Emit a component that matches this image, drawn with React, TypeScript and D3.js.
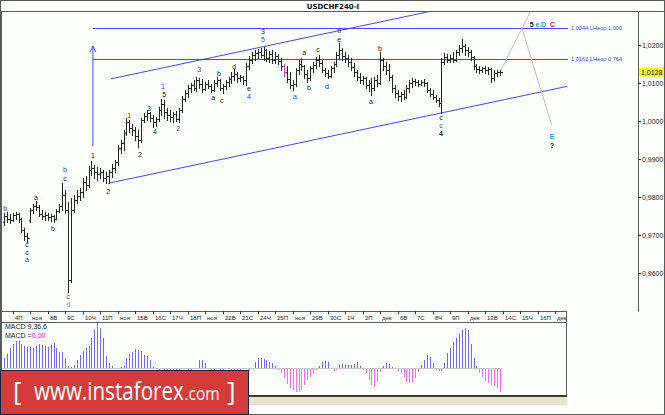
import React from "react";
import * as d3 from "d3";

// ---- USDCHF H4 bars (Nov 3 – Dec 13, 2016) ----
const opens = [
  0.9734,0.9750,0.9742,0.9739,0.9752,0.9755,0.9742,0.9713,0.9697,0.9739,
  0.9765,0.9776,0.9773,0.9755,0.9750,0.9752,0.9747,0.9750,0.9742,0.9763,
  0.9776,0.9805,0.9765,0.9581,0.9765,0.9792,0.9802,0.9813,0.9839,0.9831,
  0.9871,0.9876,0.9865,0.9860,0.9865,0.9850,0.9855,0.9865,0.9876,0.9892,
  0.9929,0.9942,0.9968,0.9997,0.9981,0.9976,0.9960,0.9950,1.0002,1.0013,
  1.0021,1.0007,0.9997,1.0005,1.0029,1.0044,1.0023,1.0015,1.0010,1.0018,
  1.0005,1.0029,1.0057,1.0073,1.0086,1.0094,1.0086,1.0107,1.0097,1.0084,
  1.0097,1.0092,1.0081,1.0100,1.0107,1.0086,1.0092,1.0102,1.0110,1.0118,
  1.0123,1.0113,1.0115,1.0107,1.0144,1.0160,1.0173,1.0179,1.0181,1.0173,
  1.0186,1.0165,1.0176,1.0160,1.0171,1.0157,1.0144,1.0129,1.0110,1.0094,
  1.0097,1.0134,1.0150,1.0144,1.0123,1.0113,1.0139,1.0147,1.0160,1.0152,
  1.0134,1.0126,1.0118,1.0139,1.0150,1.0173,1.0186,1.0171,1.0165,1.0155,
  1.0142,1.0129,1.0115,1.0107,1.0113,1.0094,1.0100,1.0086,1.0107,1.0100,
  1.0160,1.0144,1.0134,1.0115,1.0086,1.0073,1.0065,1.0071,1.0063,1.0086,
  1.0100,1.0105,1.0102,1.0097,1.0102,1.0100,1.0081,1.0071,1.0063,1.0055,
  1.0047,1.0155,1.0168,1.0160,1.0165,1.0160,1.0181,1.0192,1.0197,1.0186,
  1.0181,1.0168,1.0144,1.0136,1.0134,1.0139,1.0134,1.0136,1.0113,1.0126,
  1.0129,
];
const highs = [
  0.9757,0.9760,0.9755,0.9757,0.9760,0.9757,0.9744,0.9718,0.9705,0.9771,
  0.9781,0.9789,0.9779,0.9765,0.9760,0.9757,0.9755,0.9752,0.9768,0.9781,
  0.9836,0.9818,0.9786,0.9797,0.9805,0.9818,0.9823,0.9850,0.9855,0.9881,
  0.9894,0.9884,0.9878,0.9876,0.9871,0.9865,0.9871,0.9886,0.9897,0.9936,
  0.9950,0.9976,1.0007,1.0002,0.9992,0.9984,0.9976,1.0007,1.0021,1.0029,
  1.0023,1.0015,1.0010,1.0036,1.0057,1.0055,1.0034,1.0029,1.0023,1.0026,
  1.0034,1.0065,1.0081,1.0094,1.0100,1.0107,1.0115,1.0113,1.0110,1.0102,
  1.0107,1.0097,1.0107,1.0115,1.0110,1.0097,1.0107,1.0115,1.0129,1.0136,
  1.0129,1.0121,1.0118,1.0152,1.0171,1.0181,1.0186,1.0189,1.0192,1.0194,
  1.0189,1.0184,1.0186,1.0181,1.0176,1.0165,1.0150,1.0144,1.0129,1.0107,
  1.0139,1.0160,1.0165,1.0147,1.0134,1.0144,1.0155,1.0168,1.0173,1.0160,
  1.0139,1.0134,1.0144,1.0155,1.0181,1.0205,1.0192,1.0181,1.0173,1.0165,
  1.0152,1.0134,1.0126,1.0118,1.0115,1.0107,1.0113,1.0115,1.0121,1.0181,
  1.0165,1.0155,1.0150,1.0121,1.0094,1.0081,1.0076,1.0081,1.0094,1.0107,
  1.0113,1.0110,1.0107,1.0107,1.0110,1.0102,1.0086,1.0081,1.0068,1.0060,
  1.0165,1.0179,1.0176,1.0173,1.0181,1.0186,1.0200,1.0215,1.0202,1.0194,
  1.0186,1.0171,1.0150,1.0144,1.0142,1.0144,1.0142,1.0139,1.0134,1.0134,
  1.0134,
];
const lows = [
  0.9726,0.9734,0.9731,0.9736,0.9742,0.9734,0.9708,0.9686,0.9681,0.9734,
  0.9757,0.9765,0.9750,0.9742,0.9739,0.9739,0.9736,0.9734,0.9742,0.9760,
  0.9765,0.9757,0.9550,0.9576,0.9760,0.9784,0.9792,0.9800,0.9818,0.9826,
  0.9857,0.9850,0.9844,0.9850,0.9842,0.9836,0.9836,0.9852,0.9865,0.9884,
  0.9915,0.9923,0.9963,0.9971,0.9963,0.9950,0.9931,0.9944,0.9997,1.0002,
  0.9999,0.9984,0.9986,0.9999,1.0015,1.0007,1.0002,0.9999,0.9997,0.9999,
  0.9997,1.0023,1.0052,1.0063,1.0076,1.0081,1.0079,1.0086,1.0076,1.0081,
  1.0086,1.0076,1.0079,1.0092,1.0081,1.0073,1.0084,1.0092,1.0100,1.0107,
  1.0102,1.0105,1.0097,1.0094,1.0136,1.0152,1.0160,1.0165,1.0168,1.0160,
  1.0157,1.0155,1.0152,1.0152,1.0150,1.0134,1.0118,1.0102,1.0086,1.0081,
  1.0092,1.0123,1.0134,1.0113,1.0102,1.0107,1.0129,1.0139,1.0144,1.0129,
  1.0118,1.0113,1.0115,1.0129,1.0144,1.0165,1.0160,1.0155,1.0144,1.0134,
  1.0118,1.0107,1.0100,1.0097,1.0086,1.0079,1.0068,1.0081,1.0092,1.0097,
  1.0134,1.0123,1.0107,1.0076,1.0063,1.0055,1.0052,1.0057,1.0060,1.0076,
  1.0089,1.0094,1.0092,1.0094,1.0092,1.0076,1.0065,1.0057,1.0050,1.0039,
  1.0021,1.0150,1.0155,1.0155,1.0155,1.0157,1.0173,1.0181,1.0173,1.0171,
  1.0160,1.0136,1.0129,1.0126,1.0129,1.0126,1.0123,1.0102,1.0107,1.0118,
  1.0121,
];
const closes = [
  0.9750,0.9742,0.9739,0.9752,0.9755,0.9742,0.9713,0.9697,0.9692,0.9765,
  0.9776,0.9773,0.9755,0.9750,0.9752,0.9747,0.9750,0.9742,0.9763,0.9776,
  0.9805,0.9765,0.9581,0.9765,0.9792,0.9802,0.9813,0.9839,0.9831,0.9871,
  0.9876,0.9865,0.9860,0.9865,0.9850,0.9855,0.9865,0.9876,0.9892,0.9929,
  0.9942,0.9968,0.9997,0.9981,0.9976,0.9960,0.9950,1.0002,1.0013,1.0021,
  1.0007,0.9997,1.0005,1.0029,1.0044,1.0023,1.0015,1.0010,1.0018,1.0005,
  1.0029,1.0057,1.0073,1.0086,1.0094,1.0086,1.0107,1.0097,1.0084,1.0097,
  1.0092,1.0081,1.0100,1.0107,1.0086,1.0092,1.0102,1.0110,1.0118,1.0123,
  1.0113,1.0115,1.0107,1.0144,1.0160,1.0173,1.0179,1.0181,1.0173,1.0186,
  1.0165,1.0176,1.0160,1.0171,1.0157,1.0144,1.0129,1.0110,1.0094,1.0097,
  1.0134,1.0150,1.0144,1.0123,1.0113,1.0139,1.0147,1.0160,1.0152,1.0134,
  1.0126,1.0118,1.0139,1.0150,1.0173,1.0186,1.0171,1.0165,1.0155,1.0142,
  1.0129,1.0115,1.0107,1.0113,1.0094,1.0100,1.0086,1.0107,1.0100,1.0160,
  1.0144,1.0134,1.0115,1.0086,1.0073,1.0065,1.0071,1.0063,1.0086,1.0100,
  1.0105,1.0102,1.0097,1.0102,1.0100,1.0081,1.0071,1.0063,1.0055,1.0047,
  1.0155,1.0168,1.0160,1.0165,1.0160,1.0181,1.0192,1.0197,1.0186,1.0181,
  1.0168,1.0144,1.0136,1.0134,1.0139,1.0134,1.0136,1.0113,1.0126,1.0129,
  1.0128,
];
// MACD(9,36,6) histogram, in points (0.0001)
const macdHist = [
  10,14,20,24,27,27,24,22,21,21,
  20,22,24,23,22,21,23,25,20,16,
  16,10,2,1,3,8,13,17,20,22,
  30,38,45,40,30,12,5,2,-1,-1,
  1,2,10,14,16,19,18,17,13,12,
  8,1,-1,-2,-1,-2,-3,-2,-2,-3,
  -2,-1,-1,-2,-2,-1,-1,8,8,5,
  -1,-2,-2,-1,-3,-2,-1,-1,-2,-3,
  -2,-2,-1,-1,-2,-1,6,10,10,9,
  8,6,5,2,-2,-5,-10,-16,-20,-22,
  -24,-24,-22,-17,-12,-9,-5,-2,2,6,
  7,6,-1,-3,-2,3,4,3,3,3,
  4,6,2,-2,-5,-12,-17,-19,-14,-4,
  2,5,4,1,-1,-3,-5,-9,-14,-15,
  -14,-10,-4,3,8,13,11,5,-2,-3,
  -3,5,15,20,26,30,34,38,40,38,
  24,10,2,-5,-9,-13,-15,-17,-18,-20,
  -24,
];
const dayLabels = [
  "4П","ноя","8В","9С","10Ч","11П","ноя","15В","16С","17Ч","18П","ноя",
  "22В","23С","24Ч","25П","ноя","29В","30С","1Ч","2П","дек","6В","7С",
  "8Ч","9П","дек","13В","14С","15Ч","16П","дек",
];
const priceTicks = [1.02, 1.01, 1.0, 0.99, 0.98, 0.97, 0.96];
const lastPrice = 1.0128;
const fibPrices = [1.0244, 1.0162];
const fibRatios = ["1,000", "0,764"];
const fibStartBar = 30.5;
const fibEndBar = 193.4;
const arrowLine = [[30.5, 0.9934], [30.5, 1.0197]];
const lowerChannel = [[35.7, 0.9836], [193.0, 1.0091]];
const upperChannel = [[36.7, 1.0111], [147.1, 1.0290]];
const projUp = [[170, 1.0128], [177.6, 1.0244], [180.6, 1.029]];
const projDown = [[177.6, 1.0244], [187.8, 0.9989]];
const pinkBar = 96;

const waveLabels: { t: string; i: number; p: number; k: string; b?: boolean }[] = [
  { t: "b", i: 0.4, p: 0.9771, k: "blue" },
  { t: "c", i: 7.9, p: 0.9675, k: "black" },
  { t: "c", i: 7.9, p: 0.9655, k: "black" },
  { t: "a", i: 7.9, p: 0.9635, k: "blue" },
  { t: "a", i: 11.0, p: 0.98, k: "black" },
  { t: "b", i: 16.8, p: 0.9718, k: "black" },
  { t: "b", i: 20.9, p: 0.9873, k: "blue" },
  { t: "c", i: 20.9, p: 0.985, k: "black" },
  { t: "c", i: 22.0, p: 0.9539, k: "blue" },
  { t: "d", i: 22.0, p: 0.9518, k: "cyan" },
  { t: "1", i: 30.5, p: 0.991, k: "black" },
  { t: "2", i: 35.7, p: 0.9815, k: "black" },
  { t: "1", i: 42.9, p: 1.0015, k: "darkred" },
  { t: "2", i: 46.6, p: 0.9913, k: "black" },
  { t: "3", i: 49.7, p: 1.0034, k: "black" },
  { t: "4", i: 51.8, p: 0.9973, k: "black" },
  { t: "1", i: 54.5, p: 1.0091, k: "blue" },
  { t: "5", i: 54.9, p: 1.0071, k: "black" },
  { t: "2", i: 59.7, p: 0.9981, k: "blue" },
  { t: "3", i: 66.9, p: 1.0136, k: "blue" },
  { t: "a", i: 71.7, p: 1.0063, k: "black" },
  { t: "b", i: 73.7, p: 1.0126, k: "black" },
  { t: "c", i: 74.7, p: 1.0055, k: "black" },
  { t: "d", i: 78.9, p: 1.0144, k: "black" },
  { t: "e", i: 84.0, p: 1.0086, k: "black" },
  { t: "4", i: 84.0, p: 1.0065, k: "blue" },
  { t: "3", i: 88.8, p: 1.0236, k: "black" },
  { t: "5", i: 88.8, p: 1.0215, k: "blue" },
  { t: "a", i: 99.8, p: 1.0065, k: "blue" },
  { t: "a", i: 102.9, p: 1.0181, k: "black" },
  { t: "b", i: 104.6, p: 1.0089, k: "black" },
  { t: "c", i: 107.7, p: 1.0189, k: "black" },
  { t: "d", i: 110.7, p: 1.0092, k: "black" },
  { t: "b", i: 114.9, p: 1.0237, k: "blue" },
  { t: "e", i: 114.9, p: 1.0215, k: "black" },
  { t: "a", i: 125.8, p: 1.0052, k: "black" },
  { t: "b", i: 128.9, p: 1.0192, k: "black" },
  { t: "c", i: 149.8, p: 1.0008, k: "black" },
  { t: "c", i: 149.8, p: 0.9988, k: "blue" },
  { t: "4", i: 149.8, p: 0.9968, k: "black", b: true },
  { t: "5", i: 180.9, p: 1.0255, k: "black", b: true },
  { t: "e", i: 182.9, p: 1.0255, k: "teal", b: true },
  { t: "D", i: 185.0, p: 1.0255, k: "cyan", b: true },
  { t: "C", i: 188.1, p: 1.0255, k: "red", b: true },
  { t: "E", i: 187.9, p: 0.996, k: "cyan", b: true },
  { t: "?", i: 187.9, p: 0.9935, k: "black", b: true },
];

const labelColors: Record<string, string> = {
  black: "#1a1a1a",
  blue: "#3434ff",
  cyan: "#1c9ee6",
  teal: "#1a8fd6",
  red: "#e01e1e",
  darkred: "#a01818",
};

const fmt = (p: number) => p.toFixed(4).replace(".", ",");

export default function App() {
  const x = d3.scaleLinear().domain([0, 170]).range([3.95, 499.8]);
  const y = d3.scaleLinear().domain([0.95, 1.02]).range([311, 45]);
  const ym = d3.scaleLinear().domain([-27, 46]).range([395, 322]);
  const cx = (i: number) => Math.round(x(i)) + 0.5;
  const cy = (p: number) => Math.round(y(p)) + 0.5;
  const line = d3
    .line<number[]>()
    .x((d) => x(d[0]))
    .y((d) => y(d[1]));

  const barPaths = closes.map((c, i) => {
    const X = cx(i);
    return `M${X},${Math.round(y(highs[i]))}V${Math.round(y(lows[i])) + 1}M${X - 2},${cy(
      opens[i]
    )}H${X}M${X},${cy(c)}H${X + 2}`;
  });

  const lineBlue = "#4646f8";
  const zeroY = Math.round(ym(0));

  return (
    <svg
      width={665}
      height={415}
      style={{ position: "fixed", left: 0, top: 0, display: "block", background: "#fdfffd" }}
      fontFamily="'Liberation Sans', Arial, sans-serif"
    >
      <rect x={0} y={0} width={665} height={415} fill="#fdfffd" />
      <defs>
        <clipPath id="plot">
          <rect x={2} y={12} width={636} height={299} />
        </clipPath>
      </defs>

      <text
        x={333}
        y={9}
        textAnchor="middle"
        fontFamily="'DejaVu Sans', sans-serif"
        fontWeight="bold"
        fontSize={7}
        fill="#111"
      >
        USDCHF240-I
      </text>

      <g stroke="#5a5a5a" fill="none" shapeRendering="crispEdges">
        <rect x={0.5} y={0.5} width={664} height={414} />
        <line x1={0} x2={665} y1={11.5} y2={11.5} />
        <line x1={638.5} x2={638.5} y1={11} y2={311} />
        <line x1={1.5} x2={1.5} y1={11} y2={397} />
        <line x1={1} x2={567} y1={311.5} y2={311.5} />
        <line x1={1} x2={567} y1={322.5} y2={322.5} />
        <line x1={566.5} x2={566.5} y1={311} y2={397} />
      </g>
      <rect x={2} y={395} width={565} height={2} fill="#3a3a3a" />
      <rect x={2} y={397} width={565} height={8} fill="#e7e3cb" />

      <g clipPath="url(#plot)">
        {fibPrices.map((p, k) => (
          <line
            key={"f" + k}
            x1={x(fibStartBar)}
            x2={x(fibEndBar)}
            y1={cy(p)}
            y2={cy(p)}
            stroke={lineBlue}
            shapeRendering="crispEdges"
          />
        ))}
        <path d={line(arrowLine as number[][]) || ""} stroke={lineBlue} fill="none" />
        <path
          d={`M${x(arrowLine[1][0]) - 3},${y(arrowLine[1][1]) + 6}L${x(arrowLine[1][0])},${y(
            arrowLine[1][1]
          )}L${x(arrowLine[1][0]) + 3},${y(arrowLine[1][1]) + 6}`}
          stroke={lineBlue}
          fill="none"
        />
        <path d={line(lowerChannel as number[][]) || ""} stroke={lineBlue} fill="none" />
        <path d={line(upperChannel as number[][]) || ""} stroke={lineBlue} fill="none" />
        <path d={line(projUp as number[][]) || ""} stroke="#cbbcbc" fill="none" />
        <path d={line(projDown as number[][]) || ""} stroke="#cbbcbc" fill="none" />

        <g fill="none" strokeWidth={1} shapeRendering="crispEdges">
          {barPaths.map((d, i) => (
            <path key={i} d={d} stroke={i === pinkBar ? "#e040e0" : "#262626"} />
          ))}
        </g>

        {waveLabels.map((l, k) => (
          <text
            key={"w" + k}
            x={x(l.i)}
            y={y(l.p)}
            textAnchor="middle"
            dominantBaseline="central"
            fontSize={7}
            fontWeight={l.b ? "bold" : "normal"}
            fill={labelColors[l.k]}
          >
            {l.t}
          </text>
        ))}
      </g>

      {fibPrices.map((p, k) => (
        <text
          key={"fl" + k}
          x={x(fibEndBar) + 3}
          y={y(p)}
          dominantBaseline="central"
          fontSize={6}
          fill="#3c3cf0"
          textLength={51}
          lengthAdjust="spacingAndGlyphs"
        >
          {`${fmt(p)} LHeop ${fibRatios[k]}`}
        </text>
      ))}

      <g fontSize={7} fill="#222">
        {priceTicks.map((p) => (
          <g key={p}>
            <line x1={638} x2={641} y1={cy(p)} y2={cy(p)} stroke="#333" shapeRendering="crispEdges" />
            <text x={642} y={y(p)} dominantBaseline="central">
              {fmt(p)}
            </text>
          </g>
        ))}
        <rect x={639} y={Math.round(y(lastPrice)) - 4.5} width={25} height={9} fill="#ffff00" />
        <text x={641} y={y(lastPrice)} dominantBaseline="central" fill="#000">
          {fmt(lastPrice)}
        </text>
      </g>

      <g fontSize={6} fill="#222">
        {dayLabels.map((t, d) => {
          const tx = cx(3 + 6 * d);
          return (
            <g key={"d" + d}>
              <line x1={tx} x2={tx} y1={311} y2={314} stroke="#333" shapeRendering="crispEdges" />
              <text x={tx + 1.5} y={319.5}>
                {t}
              </text>
            </g>
          );
        })}
      </g>

      <line x1={2} x2={x(170)} y1={zeroY + 0.5} y2={zeroY + 0.5} stroke="#c8c8c8" shapeRendering="crispEdges" />
      <g shapeRendering="crispEdges">
        {macdHist.map((v, i) => (
          <line
            key={"m" + i}
            x1={cx(i)}
            x2={cx(i)}
            y1={v >= 0 ? zeroY : zeroY + 1}
            y2={Math.round(ym(v))}
            stroke={v >= 0 ? "#6a6aff" : "#ff66ff"}
          />
        ))}
      </g>
      <text x={5} y={328.5} fontSize={7} fill="#222">
        MACD 9,36,6
      </text>
      <text x={5} y={337.5} fontSize={7} fill="#222">
        MACD =<tspan fill="#ff00ff">0,00</tspan>
      </text>

      <rect x={0.5} y={370.5} width={248} height={44} fill="#d43b3b" stroke="#1d1f3f" strokeWidth={1} />
      <g fill="#ffffff" fontFamily="'Open Sans', sans-serif">
        <text x={13} y={400} fontSize={26}>[</text>
        <g transform="translate(34,400) scale(1,1.22)">
          <text x={0} y={0} fontSize={20.6}>www.instaforex</text>
        </g>
        <g transform="translate(184.5,400) scale(1,1.22)">
          <text x={0} y={0} fontSize={15.5}>.com</text>
        </g>
        <text x={227} y={400} fontSize={26}>]</text>
      </g>
    </svg>
  );
}
